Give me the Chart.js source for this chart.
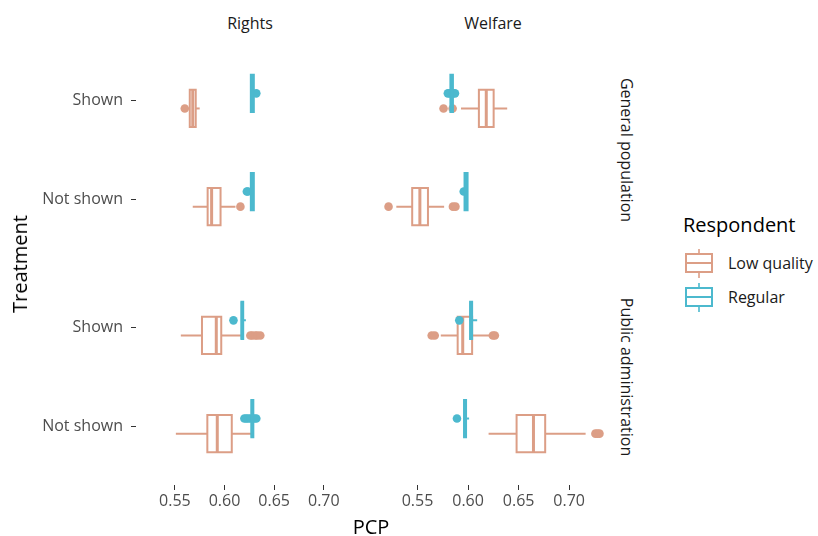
<!DOCTYPE html>
<html lang="en">
<head>
<meta charset="utf-8">
<title>PCP by treatment and respondent</title>
<script src="https://cdn.jsdelivr.net/npm/chart.js@4.4.1/dist/chart.umd.min.js"></script>
<style>
* { margin: 0; padding: 0; box-sizing: border-box; }
body { width: 818px; height: 536px; background: #fff; overflow: hidden; font-family: "Open Sans", sans-serif; }
#page { position: relative; width: 818px; height: 536px; }
.panel { position: absolute; }
.txt { position: absolute; white-space: nowrap; line-height: 1; }
.strip { font-size: 16px; color: #1a1a1a; transform: translate(-50%, -50%); }
.strip-r { font-size: 16px; color: #1a1a1a; transform: translate(-50%, -50%) rotate(90deg); }
.axis-title { font-size: 20px; color: #000; transform: translate(-50%, -50%); }
.legend-title { font-size: 20px; color: #000; transform: translateY(-50%); }
.legend-text { font-size: 16px; color: #1a1a1a; transform: translateY(-50%); }
.key { position: absolute; }
</style>
</head>
<body>
<div id="page">
  <div class="txt strip" style="left:250px; top:23px;">Rights</div>
  <div class="txt strip" style="left:493px; top:23px;">Welfare</div>
  <div class="txt strip-r" style="left:627px; top:150px;">General population</div>
  <div class="txt strip-r" style="left:627px; top:377px;">Public administration</div>

  <div class="panel" style="left:0; top:42px; width:364px; height:216px;"><canvas id="gr"></canvas></div>
  <div class="panel" style="left:378px; top:42px; width:232px; height:216px;"><canvas id="gw"></canvas></div>
  <div class="panel" style="left:0; top:269px; width:364px; height:256px;"><canvas id="pr"></canvas></div>
  <div class="panel" style="left:378px; top:269px; width:232px; height:256px;"><canvas id="pw"></canvas></div>

  <div class="txt axis-title" style="left:20px; top:264px; transform:translate(-50%,-50%) rotate(-90deg);">Treatment</div>
  <div class="txt axis-title" style="left:371px; top:527px;">PCP</div>

  <div class="txt legend-title" style="left:683px; top:225px;">Respondent</div>
  <div id="legend"></div>
</div>

<script>
// categories
const treatments = ["Not shown", "Shown"];      // y = 1, y = 2
const respondents = ["Low quality", "Regular"];
const colours = ["#DC9E86", "#4CB9CE"];
const xTicks = [0.55, 0.60, 0.65, 0.70];

// box stats per treatment (Not shown, Shown): [lower whisker, Q1, median, Q3, upper whisker]
const rightsGeneralLow = [[0.568, 0.583, 0.587, 0.596, 0.611], [0.5645, 0.5650, 0.5680, 0.5710, 0.5750]];
const rightsGeneralLowOut = [[0.616], [0.560]];
const rightsGeneralReg = [[0.6265, 0.6265, 0.6280, 0.6295, 0.6295], [0.6265, 0.6265, 0.6280, 0.6295, 0.6295]];
const rightsGeneralRegOut = [[0.6225, 0.6235], [0.632]];

const welfareGeneralLow = [[0.529, 0.5447, 0.5523, 0.5603, 0.5763], [0.593, 0.6107, 0.618, 0.6253, 0.6387]];
const welfareGeneralLowOut = [[0.5213, 0.585, 0.5875], [0.5757, 0.5847]];
const welfareGeneralReg = [[0.5965, 0.5965, 0.598, 0.5995, 0.5995], [0.5825, 0.5825, 0.5837, 0.5850, 0.5850]];
const welfareGeneralRegOut = [[0.5957], [0.580, 0.582, 0.585, 0.587]];

const rightsPublicLow = [[0.551, 0.5827, 0.5927, 0.6073, 0.628], [0.556, 0.5773, 0.5917, 0.5967, 0.6167]];
const rightsPublicLowOut = [[], [0.626, 0.628, 0.631, 0.633, 0.636]];
const rightsPublicReg = [[0.6265, 0.627, 0.628, 0.629, 0.6295], [0.6165, 0.617, 0.6178, 0.6188, 0.6215]];
const rightsPublicRegOut = [[0.620, 0.622, 0.624, 0.6265, 0.630, 0.632], [0.609]];

const welfarePublicLow = [[0.6203, 0.648, 0.6647, 0.6763, 0.7163], [0.573, 0.5897, 0.5947, 0.604, 0.6213]];
const welfarePublicLowOut = [[0.726, 0.728, 0.730], [0.564, 0.567, 0.6245, 0.6265]];
const welfarePublicReg = [[0.596, 0.596, 0.597, 0.598, 0.601], [0.6015, 0.602, 0.603, 0.604, 0.609]];
const welfarePublicRegOut = [[0.589], [0.5913]];

// shared x range (fixed scales, 5% expansion like ggplot)
const allValues = [rightsGeneralLow, rightsGeneralLowOut, rightsGeneralReg, rightsGeneralRegOut,
  welfareGeneralLow, welfareGeneralLowOut, welfareGeneralReg, welfareGeneralRegOut,
  rightsPublicLow, rightsPublicLowOut, rightsPublicReg, rightsPublicRegOut,
  welfarePublicLow, welfarePublicLowOut, welfarePublicReg, welfarePublicRegOut].flat(2);
const dataMin = Math.min(...allValues), dataMax = Math.max(...allValues);
const pad = (dataMax - dataMin) * 0.05;
const xMin = dataMin - pad, xMax = dataMax + pad;

const dodge = 0.077;   // vertical offset of each group from the category
const half = 0.19;     // half box height

Chart.defaults.font.family = "'Open Sans', sans-serif";

function groupSets(stats, outs, g, sets) {
  const col = colours[g];
  stats.forEach((s, t) => {
    const yc = t + 1 + (g === 0 ? -dodge : dodge);
    const [lo, q1, med, q3, hi] = s;
    // outliers
    sets.push({ data: outs[t].map(v => ({ x: v, y: yc })), showLine: false,
      pointRadius: 4.3, pointBackgroundColor: col, pointBorderWidth: 0 });
    // whiskers
    sets.push({ data: [{ x: lo, y: yc }, { x: q1, y: yc }, { x: q1, y: null }, { x: q3, y: yc }, { x: hi, y: yc }],
      showLine: true, spanGaps: false, borderColor: col, borderWidth: 2, pointRadius: 0 });
    // box
    sets.push({ data: [{ x: q1, y: yc - half }, { x: q3, y: yc - half }, { x: q3, y: yc + half }, { x: q1, y: yc + half }, { x: q1, y: yc - half }],
      showLine: true, fill: 'shape', backgroundColor: '#ffffff', borderColor: col, borderWidth: 2,
      borderJoinStyle: 'miter', borderCapStyle: 'square', pointRadius: 0 });
    // median
    sets.push({ data: [{ x: med, y: yc - half }, { x: med, y: yc + half }],
      showLine: true, borderColor: col, borderWidth: 3, pointRadius: 0 });
  });
}

function makePanel(id, low, lowOut, reg, regOut, showX, showY) {
  const sets = [];
  groupSets(low, lowOut, 0, sets);
  groupSets(reg, regOut, 1, sets);
  // draw in the order they were built
  sets.forEach((d, k) => { d.order = -k; });

  const tickGrid = { display: true, drawOnChartArea: false, drawTicks: true, tickLength: 5, color: '#333333', lineWidth: 1 };
  new Chart(document.getElementById(id), {
    type: 'scatter',
    data: { datasets: sets },
    options: {
      responsive: true,
      maintainAspectRatio: false,
      animation: false,
      events: [],
      layout: { padding: 0, autoPadding: false },
      plugins: { legend: { display: false }, tooltip: { enabled: false } },
      scales: {
        x: {
          type: 'linear', min: xMin, max: xMax, display: showX,
          grid: tickGrid, border: { display: false },
          afterBuildTicks: s => { s.ticks = xTicks.map(v => ({ value: v })); },
          afterFit: s => { s.height = showX ? 40 : 0; s.paddingLeft = 0; s.paddingRight = 0; },
          ticks: { color: '#4D4D4D', font: { size: 16 }, padding: 2, autoSkip: false, maxRotation: 0,
            callback: v => v.toFixed(2) }
        },
        y: {
          type: 'linear', min: 0.4, max: 2.6, display: showY,
          grid: tickGrid, border: { display: false },
          afterBuildTicks: s => { s.ticks = treatments.map((_, i) => ({ value: i + 1 })); },
          afterFit: s => { s.width = showY ? 136 : 0; s.paddingTop = 0; s.paddingBottom = 0; },
          ticks: { color: '#4D4D4D', font: { size: 16 }, padding: 8, autoSkip: false,
            callback: v => treatments[Math.round(v) - 1] }
        }
      }
    }
  });
}

makePanel('gr', rightsGeneralLow, rightsGeneralLowOut, rightsGeneralReg, rightsGeneralRegOut, false, true);
makePanel('gw', welfareGeneralLow, welfareGeneralLowOut, welfareGeneralReg, welfareGeneralRegOut, false, false);
makePanel('pr', rightsPublicLow, rightsPublicLowOut, rightsPublicReg, rightsPublicRegOut, true, true);
makePanel('pw', welfarePublicLow, welfarePublicLowOut, welfarePublicReg, welfarePublicRegOut, true, false);

// legend
const legend = document.getElementById('legend');
respondents.forEach((name, i) => {
  const cy = 263 + i * 34;
  const c = colours[i];
  legend.insertAdjacentHTML('beforeend',
    `<svg class="key" style="left:685px; top:${cy - 14}px;" width="28" height="29" viewBox="0 0 28 29">
       <line x1="14" y1="0" x2="14" y2="29" stroke="${c}" stroke-width="1.6"/>
       <rect x="1" y="5" width="26" height="18" fill="#fff" stroke="${c}" stroke-width="2"/>
       <line x1="1" y1="14" x2="27" y2="14" stroke="${c}" stroke-width="2"/>
     </svg>
     <div class="txt legend-text" style="left:728px; top:${cy}px;">${name}</div>`);
});
</script>
</body>
</html>
